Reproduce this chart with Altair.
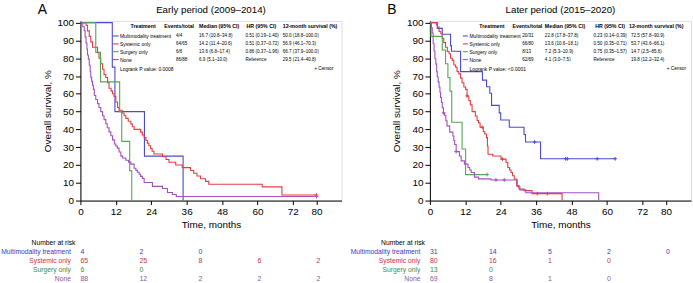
import altair as alt
import pandas as pd

FONT = "Liberation Sans"
GROUPS = ["Multimodality treatment", "Systemic only", "Surgery only", "None"]
LINE_COLORS = ["#4a4ad2", "#e83c40", "#52a852", "#a450c2"]
RISK_COLORS = ["#3a3abf", "#cc3048", "#3f8a3f", "#8c55a5"]

X_TICKS = [0, 12, 24, 36, 48, 60, 72, 80]
Y_TICKS = [0, 10, 20, 30, 40, 50, 60, 70, 80, 90, 100]
RISK_TIMES = [0, 20, 40, 60, 80]
HEADERS = ["Treatment", "Events/total", "Median (95% CI)", "HR (95% CI)", "12-month survival (%)"]

# ---------------- Panel A: Early period ----------------
A_letter = "A"
A_title = "Early period (2009–2014)"
A_mm_t = [0, 10.8, 11.7, 21.7, 34.8]
A_mm_s = [100, 75, 50, 25, 0]
A_sys_t = [0, 1.9, 2.4, 3.0, 3.5, 4.1, 5.8, 6.3, 6.9, 7.5, 8.0, 8.6, 9.2, 9.7, 10.4, 10.9, 11.4, 12.0, 12.6, 13.1,
           14.2, 14.8, 15.4, 16.2, 17.1, 17.6, 18.2, 20.4, 21.0, 21.6, 22.2, 22.7, 23.2, 23.8, 24.3, 24.9, 27.8, 29.0,
           30.0, 32.3, 34.5, 37.3, 38.4, 39.5, 40.7, 42.4, 43.5, 61.6, 68.3, 80.0]
A_sys_s = [100, 98.5, 95.4, 92.3, 89.2, 86.2, 83.1, 80.0, 76.9, 73.8, 70.8, 69.2, 66.2, 63.1, 61.5, 60.0, 58.5, 55.4,
           52.3, 50.8, 49.2, 47.7, 46.2, 44.6, 43.1, 41.5, 40.0, 38.5, 36.9, 35.4, 33.8, 32.3, 30.8, 29.2, 27.7, 26.2,
           24.6, 23.1, 21.5, 20.0, 18.5, 16.9, 15.4, 13.8, 12.3, 10.8, 9.2, 7.7, 3.1, 3.1]
A_sur_t = [0, 5.2, 6.8, 13.3, 14.0, 16.7, 17.4]
A_sur_s = [100, 83.3, 66.7, 50, 33.3, 16.7, 0]
A_none_t = [0, 0.8, 1.3, 1.6, 1.9, 2.2, 2.4, 2.7, 3.0, 3.3, 3.5, 3.8, 4.1, 4.4, 4.7, 5.2, 5.8, 6.3, 6.9, 7.5, 8.0,
            8.6, 9.1, 9.7, 10.3, 10.9, 11.5, 12.0, 12.5, 13.1, 13.7, 14.3, 15.4, 16.3, 17.1, 18.2, 18.8, 19.3, 19.9,
            20.4, 21.0, 21.6, 24.4, 27.8, 29.5, 31.2, 32.5, 80.0]
A_none_s = [100, 97.7, 95.5, 92.0, 88.6, 85.2, 81.8, 79.5, 76.1, 72.7, 69.3, 67.0, 64.8, 62.5, 59.1, 56.8, 54.5, 52.3,
            50.0, 47.7, 45.5, 43.2, 40.9, 38.6, 36.4, 34.1, 31.8, 30.7, 29.5, 27.3, 25.0, 23.9, 22.7, 21.6, 20.5, 18.2,
            17.0, 15.9, 14.8, 13.6, 12.5, 10.2, 8.0, 6.8, 4.5, 3.4, 2.3, 2.3]
A_cens_group = ["Systemic only", "None"]
A_cens_t = [80.0, 80.0]
A_cens_s = [3.1, 2.3]
A_events = ["4/4", "64/65", "6/6", "86/88"]
A_median = ["16.7 (10.8–34.8)", "14.2 (11.4–20.6)", "13.6 (6.8–17.4)", "6.9 (5.1–10.0)"]
A_hr = ["0.51 (0.19–1.40)", "0.51 (0.37–0.72)", "0.86 (0.37–1.96)", "Reference"]
A_s12 = ["50.0 (18.8–100.0)", "56.9 (46.1–70.3)", "66.7 (37.9–100.0)", "29.5 (21.4–40.8)"]
A_logrank = "Logrank P value: 0.0008"
A_risk = [[4, 2, 0], [65, 25, 8, 6, 2], [6, 0], [88, 12, 2, 2, 2]]

# ---------------- Panel B: Later period ----------------
B_letter = "B"
B_title = "Later period (2015–2020)"
B_mm_t = [0, 2.5, 4.2, 7.0, 7.3, 10.4, 17.8, 19.2, 20.3, 20.9, 23.5, 24.0, 26.9, 31.9, 32.4, 37.5, 62.8]
B_mm_s = [100, 96.8, 93.5, 87.1, 83.9, 72.5, 67.7, 64.0, 60.3, 53.5, 49.3, 45.3, 41.2, 37.1, 32.9, 23.5, 23.5]
B_sys_t = [0, 2.2, 2.6, 3.1, 3.7, 4.2, 4.7, 5.3, 5.9, 6.5, 7.0, 7.6, 8.1, 8.7, 9.2, 9.8, 10.4, 10.9, 11.5, 12.1, 12.6,
           13.2, 13.7, 14.3, 15.4, 16.0, 16.5, 17.0, 18.1, 18.6, 19.2, 19.5, 19.7, 21.3, 24.1, 25.8, 26.4, 27.0, 27.5,
           28.0, 28.6, 29.4, 30.2, 31.9, 34.6, 44.8]
B_sys_s = [100, 98.8, 97.5, 95.0, 93.8, 91.2, 88.8, 86.2, 83.8, 82.5, 80.0, 78.8, 76.2, 75.0, 72.5, 71.2, 68.8, 66.2,
           63.8, 62.5, 58.8, 56.2, 53.8, 50.0, 47.5, 45.0, 43.7, 41.2, 38.7, 37.4, 35.4, 30.7, 26.0, 25.1, 23.3, 21.4,
           18.6, 17.2, 15.8, 14.0, 12.1, 8.4, 6.5, 5.6, 3.9, 0]
B_sur_t = [0, 0.4, 4.2, 5.3, 6.1, 6.8, 7.4, 10.9, 12.1, 19.4]
B_sur_s = [100, 92.3, 84.6, 76.9, 69.2, 61.5, 44.0, 29.0, 14.6, 14.6]
B_none_t = [0, 0.5, 0.8, 1.1, 1.4, 1.7, 2.0, 2.3, 2.5, 2.8, 3.1, 3.4, 3.6, 3.9, 4.2, 4.6, 5.0, 5.4, 5.8, 6.7, 7.8,
            8.1, 8.4, 8.9, 10.0, 10.6, 11.7, 12.9, 13.5, 14.0, 15.1, 16.5, 20.7, 29.6, 30.5, 32.5, 57.2]
B_none_s = [100, 97.1, 94.2, 88.4, 84.1, 79.7, 76.8, 72.5, 69.6, 66.7, 63.8, 60.9, 58.0, 55.1, 52.2, 49.3, 47.8, 44.9,
            42.0, 38.5, 36.3, 33.8, 31.5, 27.5, 25.1, 22.3, 20.5, 18.6, 17.2, 15.8, 13.2, 12.2, 11.6, 7.8, 6.0, 4.4, 0]
B_cens_group = ["Multimodality treatment"] * 5 + ["Systemic only"] * 5 + ["Surgery only"] + ["None"] * 4
B_cens_t = [35.5, 46.0, 46.6, 56.7, 62.8, 12.6, 17.7, 24.6, 36.4, 39.8, 19.4, 4.6, 8.9, 22.4, 25.2]
B_cens_s = [32.9, 23.5, 23.5, 23.5, 23.5, 58.8, 41.2, 23.3, 3.9, 3.9, 14.6, 49.3, 27.5, 11.6, 11.6]
B_events = ["20/31", "66/80", "8/13", "62/69"]
B_median = ["22.8 (17.8–37.8)", "13.6 (10.6–18.1)", "7.2 (5.3–10.9)", "4.1 (3.0–7.5)"]
B_hr = ["0.23 (0.14–0.39)", "0.50 (0.35–0.71)", "0.75 (0.35–1.57)", "Reference"]
B_s12 = ["72.5 (57.8–90.9)", "53.7 (43.6–66.1)", "14.7 (2.5–85.6)", "19.8 (12.2–32.4)"]
B_logrank = "Logrank P value: <0.0001"
B_risk = [[31, 14, 5, 2, 0], [80, 16, 1, 0], [13, 0], [69, 8, 1, 0]]

# ---------------- layout (pixels relative to plot area) ----------------
W, H = 263, 181
A_cols = dict(sym=(32.5, 38.5), label=39.8, h_treat=50.5, h_events=84.5, events=96.2, median=119.5,
              h_hr=167.2, hr=166.2, h_s12=203.8, s12=203.8, censor=255.0)
B_cols = dict(sym=(33.2, 38.2), label=39.8, h_treat=49.8, h_events=83.2, events=93.0, median=115.8,
              h_hr=166.5, hr=164.8, h_s12=200.5, s12=202.5, censor=258.0)
LEG_Y = dict(header=5, rows=[15.2, 23.2, 31.0, 39.0], logrank=48.0)
RISK_Y = dict(title=223.3, rows=[233.3, 242.2, 251.2, 260.3])

xscale = alt.Scale(domain=[0, 88.5], nice=False, zero=False)
yscale = alt.Scale(domain=[0, 101], nice=False, zero=False)
color_scale = alt.Scale(domain=GROUPS + ["risk:" + g for g in GROUPS], range=LINE_COLORS + RISK_COLORS)

AX = dict(grid=False, labelFont=FONT, titleFont=FONT, labelFontSize=10, titleFontSize=10,
          titleFontWeight="normal", labelColor="black", titleColor="black", domainColor="black",
          tickColor="black", labelOverlap=False)
xaxis = alt.Axis(values=X_TICKS, title="Time, months", tickSize=4, labelPadding=2, titlePadding=3,
                 labelFlush=False, **AX)
yaxis = alt.Axis(values=Y_TICKS, title="Overall survival, %", tickSize=5, labelPadding=2,
                 titlePadding=4.5, **AX)

X = alt.X("t:Q", scale=xscale, axis=xaxis)
Y = alt.Y("s:Q", scale=yscale, axis=yaxis)
C = alt.Color("g:N", scale=color_scale, legend=None)


def txt_layer(rows, size, weight="normal", align="left"):
    return alt.Chart(pd.DataFrame(rows)).mark_text(
        align=align, baseline="middle", fontSize=size, font=FONT, fontWeight=weight, color="black").encode(
        x=alt.X("lx:Q", scale=None), y=alt.Y("ly:Q", scale=None), text="txt:N")


def panel(letter, title, curves, cens, events, median, hr, s12, logrank, risk, cols):
    rows = []
    for g, (ts, ss) in zip(GROUPS, curves):
        for i, (t, s) in enumerate(zip(ts, ss)):
            rows.append({"g": g, "t": t, "s": s, "i": i})
    cdf = pd.DataFrame(rows)
    lines = alt.Chart(cdf).mark_line(interpolate="step-after", strokeWidth=1.1).encode(
        x=X, y=Y, color=C, order="i:Q")

    cg, ct, cs = cens
    cens_df = pd.DataFrame({"g": cg, "t": ct, "s": cs})
    censors = alt.Chart(cens_df).mark_point(shape="M0,-1V1M-1,0H1", size=14, filled=False,
                                            strokeWidth=1, opacity=1).encode(x=X, y=Y, color=C)

    # legend table inside the plot
    hy = LEG_Y["header"]
    hdr = [{"lx": cols["h_treat"], "ly": hy, "txt": HEADERS[0]},
           {"lx": cols["h_events"], "ly": hy, "txt": HEADERS[1]},
           {"lx": cols["median"], "ly": hy, "txt": HEADERS[2]},
           {"lx": cols["h_hr"], "ly": hy, "txt": HEADERS[3]},
           {"lx": cols["h_s12"], "ly": hy, "txt": HEADERS[4]}]
    labels, nums = [], []
    for k, g in enumerate(GROUPS):
        y = LEG_Y["rows"][k]
        labels.append({"lx": cols["label"], "ly": y, "txt": g})
        nums += [{"lx": cols["events"], "ly": y, "txt": events[k]},
                 {"lx": cols["median"], "ly": y, "txt": median[k]},
                 {"lx": cols["hr"], "ly": y, "txt": hr[k]},
                 {"lx": cols["s12"], "ly": y, "txt": s12[k]}]
    labels.append({"lx": cols["label"], "ly": LEG_Y["logrank"], "txt": logrank})
    leg_hdr = txt_layer(hdr, 5.3, weight="bold")
    leg_lab = txt_layer(labels, 5.0)
    leg_num = txt_layer(nums, 4.6)
    leg_cens = txt_layer([{"lx": cols["censor"], "ly": LEG_Y["logrank"], "txt": "+ Censor"}], 4.8, align="right")
    sym_df = pd.DataFrame({"g": GROUPS, "x1": [cols["sym"][0]] * 4, "x2": [cols["sym"][1]] * 4,
                           "ly": LEG_Y["rows"]})
    leg_sym = alt.Chart(sym_df).mark_rule(strokeWidth=1.1).encode(
        x=alt.X("x1:Q", scale=None), x2="x2:Q", y=alt.Y("ly:Q", scale=None), color=C)

    # number at risk table
    rrows = []
    for k, g in enumerate(GROUPS):
        for j, n in enumerate(risk[k]):
            rrows.append({"g": "risk:" + g, "t": RISK_TIMES[j], "ry": RISK_Y["rows"][k], "n": str(n)})
    risk_nums = alt.Chart(pd.DataFrame(rrows)).mark_text(
        align="left", baseline="middle", fontSize=7, font=FONT).encode(
        x=X, y=alt.Y("ry:Q", scale=None), text="n:N", color=C)
    lab_df = pd.DataFrame({"g": ["risk:" + g for g in GROUPS], "ry": RISK_Y["rows"], "txt": GROUPS})
    risk_labels = alt.Chart(lab_df).mark_text(
        align="right", baseline="middle", fontSize=6.8, font=FONT).encode(
        x=alt.value(-9.5), y=alt.Y("ry:Q", scale=None), text="txt:N", color=C)
    risk_title = alt.Chart(pd.DataFrame({"ry": [RISK_Y["title"]], "txt": ["Number at risk"]})).mark_text(
        align="right", baseline="middle", fontSize=6.8, font=FONT, color="black").encode(
        x=alt.value(-5), y=alt.Y("ry:Q", scale=None), text="txt:N")

    one = pd.DataFrame({"txt": [title], "lt": [letter]})
    ttl = alt.Chart(one).mark_text(align="center", baseline="middle", fontSize=9.8, font=FONT,
                                   color="black").encode(
        x=alt.value(W / 2), y=alt.value(-11), text="txt:N")
    let = alt.Chart(one).mark_text(align="left", baseline="middle", fontSize=14, font=FONT,
                                   color="black").encode(
        x=alt.value(-43), y=alt.value(-11), text="lt:N")

    return alt.layer(lines, censors, leg_sym, leg_hdr, leg_lab, leg_num, leg_cens, risk_nums, risk_labels,
                     risk_title, ttl, let).properties(width=W, height=H)


pA = panel(A_letter, A_title,
           [(A_mm_t, A_mm_s), (A_sys_t, A_sys_s), (A_sur_t, A_sur_s), (A_none_t, A_none_s)],
           (A_cens_group, A_cens_t, A_cens_s), A_events, A_median, A_hr, A_s12, A_logrank, A_risk, A_cols)
pB = panel(B_letter, B_title,
           [(B_mm_t, B_mm_s), (B_sys_t, B_sys_s), (B_sur_t, B_sur_s), (B_none_t, B_none_s)],
           (B_cens_group, B_cens_t, B_cens_s), B_events, B_median, B_hr, B_s12, B_logrank, B_risk, B_cols)

chart = alt.hconcat(pA, pB, spacing=7).properties(
    padding={"left": 0, "top": 1, "right": 1, "bottom": 0}
).configure_view(stroke="#222222", strokeWidth=1).configure_axis(
    titleFontWeight="normal", domainWidth=1, tickWidth=1
).configure(background="white")

chart.save("out.html", embed_options={"renderer": "svg", "actions": False})
